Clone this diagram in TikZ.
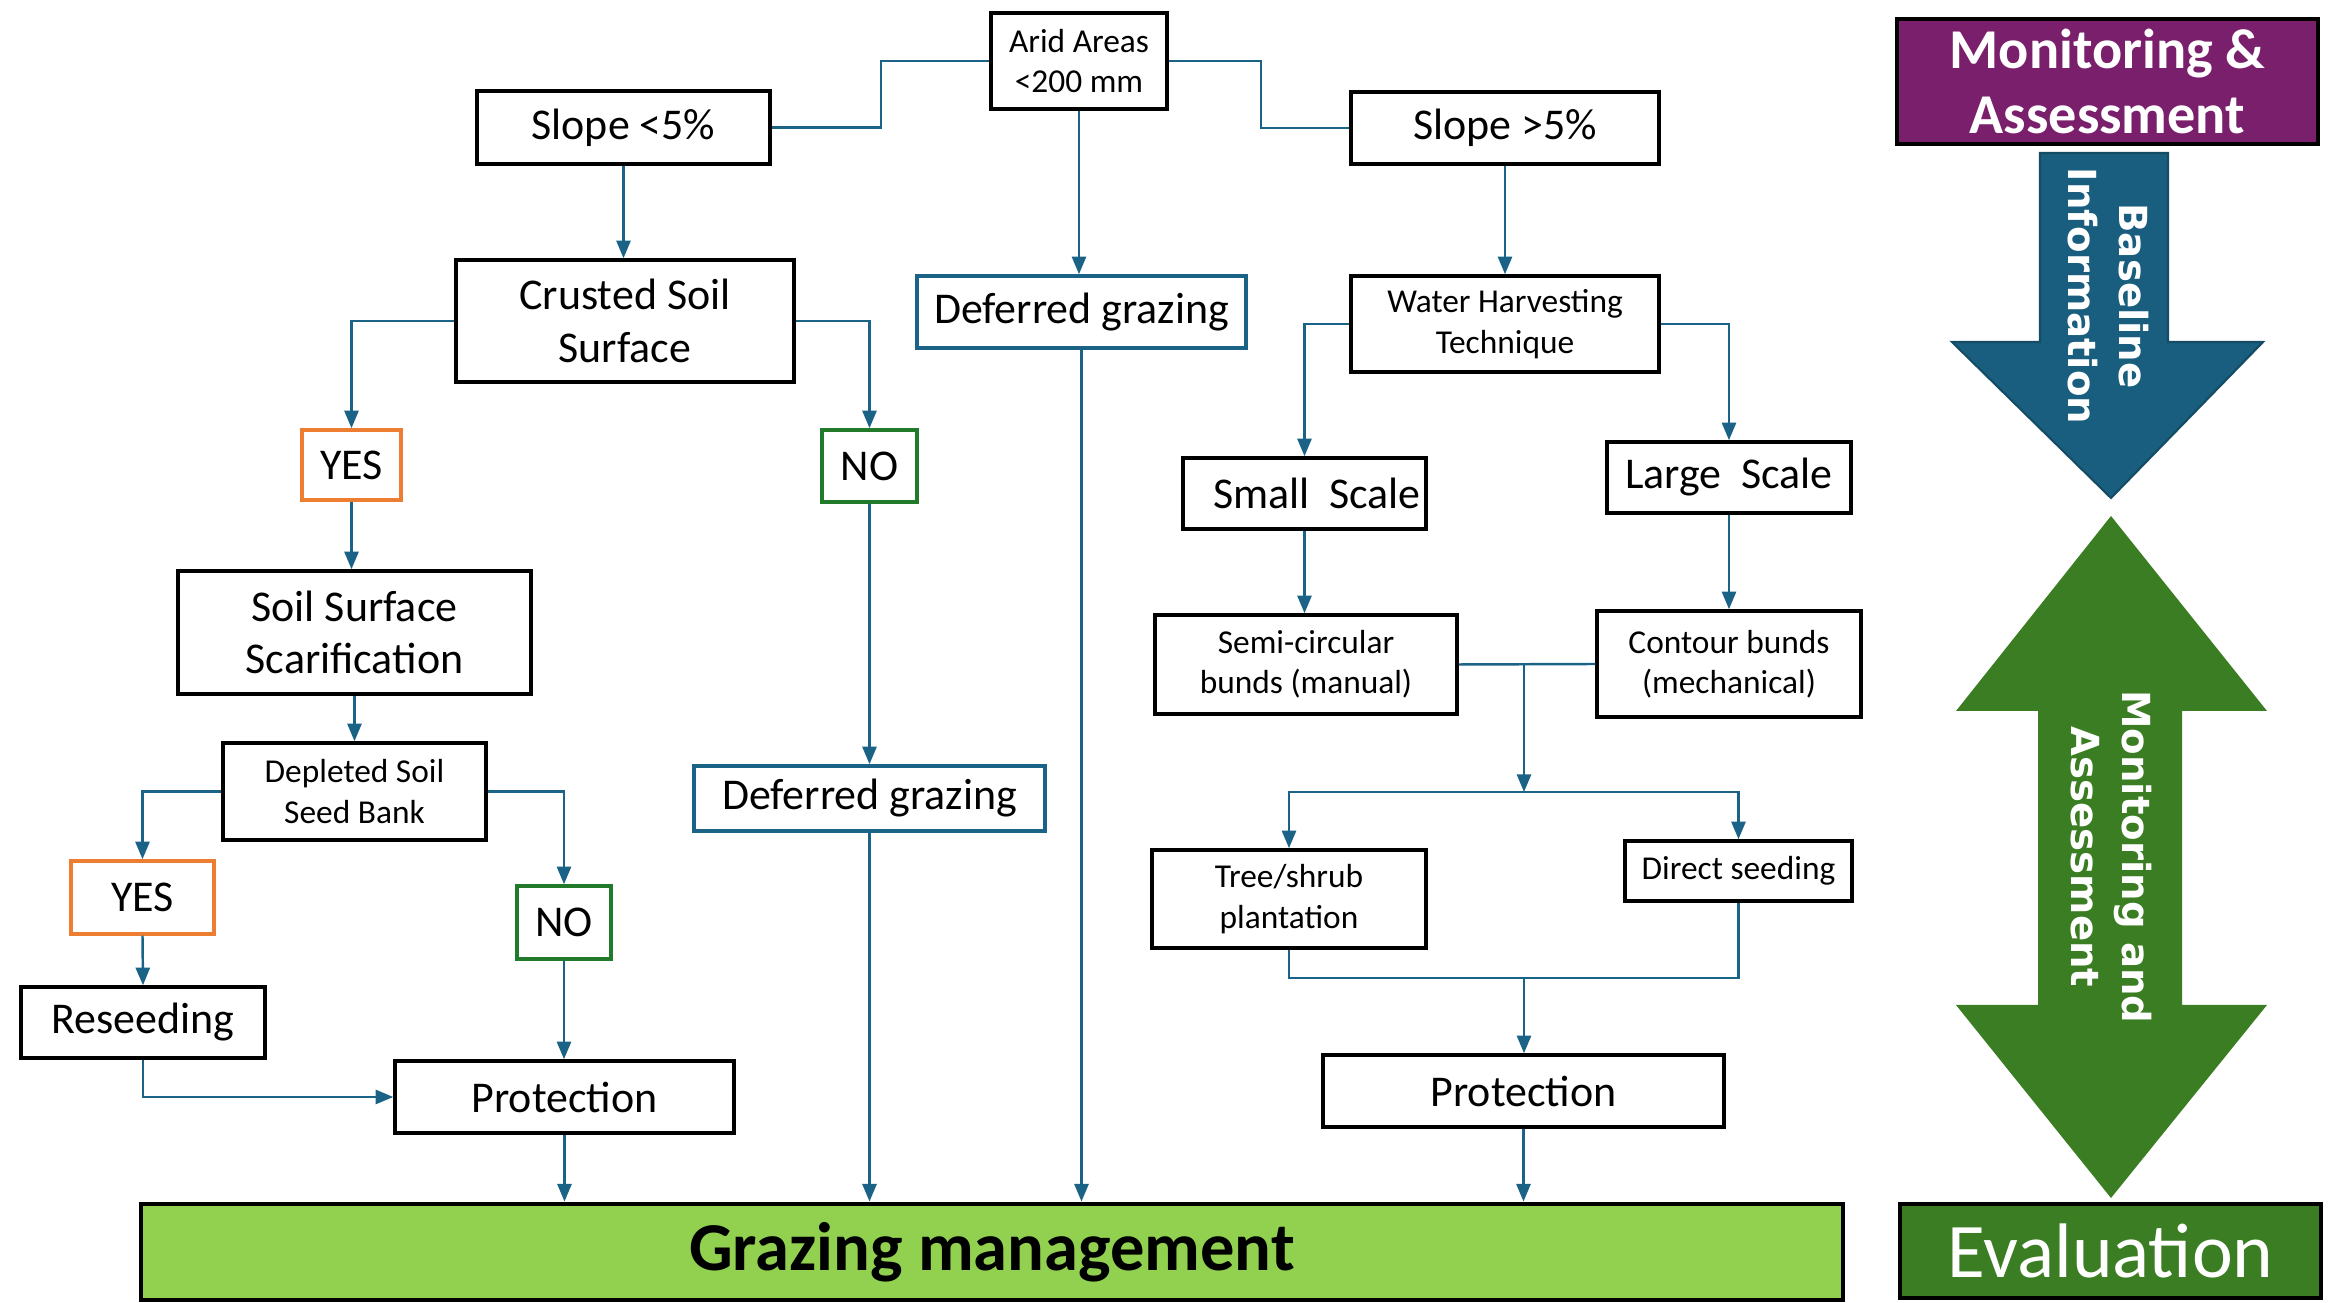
\documentclass[tikz,border=0pt]{standalone}
\usepackage{fontspec}
\setmainfont{Carlito}
\newfontfamily\widefont{DejaVu Sans}
\usetikzlibrary{arrows.meta, calc}

\definecolor{lineblue}{HTML}{1B6287}
\definecolor{arrblue}{HTML}{195E7E}
\definecolor{yesorange}{HTML}{ED7D31}
\definecolor{nogreen}{HTML}{217A2A}
\definecolor{grazegreen}{HTML}{92D050}
\definecolor{darkgreen}{HTML}{3A7D22}
\definecolor{monpurple}{HTML}{7A1F6C}

\newcommand{\bigtxt}{\fontsize{12.5}{15}\selectfont}
\newcommand{\smalltxt}{\fontsize{9.5}{11.5}\selectfont}

\tikzset{
  box/.style={draw, line width=1pt, align=center, inner sep=0pt},
  bluebox/.style={box, draw=lineblue},
  yesbox/.style={box, draw=yesorange},
  nobox/.style={box, draw=nogreen},
  lin/.style={draw=lineblue, line width=0.7pt},
  arr/.style={lin, -{Triangle[length=5pt,width=4pt]}},
}

\begin{document}
\begin{tikzpicture}[x=1cm, y=-1cm]
			\useasboundingbox (0,0) rectangle (23.31,13.03);
			% left and middle branches
			\node[box, minimum width=1.76cm, minimum height=0.96cm, font=\smalltxt] at(10.79,0.61) (arid) {Arid Areas\\<200 mm};
			\node[box, minimum width=2.93cm, minimum height=0.73cm, font=\bigtxt] at(6.235,1.275) (slopeL) {Slope <5\%};
			\node[box, minimum width=3.08cm, minimum height=0.72cm, font=\bigtxt] at(15.05,1.28) (slopeR) {Slope >5\%};
			\node[bluebox, minimum width=3.29cm, minimum height=0.72cm, font=\bigtxt] at(10.815,3.12) (defTop) {Deferred grazing};
			\node[box, minimum width=3.38cm, minimum height=1.22cm, font=\bigtxt] at(6.25,3.21) (crust) {Crusted Soil\\Surface};
			\node[yesbox, minimum width=0.99cm, minimum height=0.70cm, font=\bigtxt] at(3.515,4.65) (yesA) {YES};
			\node[nobox, minimum width=0.95cm, minimum height=0.72cm, font=\bigtxt] at(8.695,4.66) (noA) {NO};
			\node[box, minimum width=3.53cm, minimum height=1.23cm, font=\bigtxt] at(3.545,6.325) (scar) {Soil Surface\\Scarification};
			\node[bluebox, minimum width=3.51cm, minimum height=0.65cm, font=\bigtxt] at(8.695,7.985) (defMid) {Deferred grazing};
			\node[box, minimum width=2.63cm, minimum height=0.97cm, font=\smalltxt] at(3.545,7.915) (deplet) {Depleted Soil\\Seed Bank};
			\node[yesbox, minimum width=1.43cm, minimum height=0.73cm, font=\bigtxt] at(1.425,8.975) (yesB) {YES};
			\node[nobox, minimum width=0.94cm, minimum height=0.73cm, font=\bigtxt] at(5.64,9.225) (noB) {NO};
			\node[box, minimum width=2.44cm, minimum height=0.71cm, font=\bigtxt] at(1.43,10.225) (reseed) {Reseeding};
			\node[box, minimum width=3.39cm, minimum height=0.72cm, font=\bigtxt] at(5.645,10.97) (protL) {Protection};
			% right branch
			\node[box, minimum width=3.08cm, minimum height=0.96cm, font=\smalltxt] at(15.05,3.24) (water) {Water Harvesting\\Technique};
			\node[box, minimum width=2.43cm, minimum height=0.71cm, font=\bigtxt] at(13.045,4.935) (small) {\hspace*{0.25cm}Small~~Scale};
			\node[box, minimum width=2.44cm, minimum height=0.71cm, font=\bigtxt] at(17.29,4.775) (large) {Large~~Scale};
			\node[box, minimum width=3.02cm, minimum height=0.99cm, font=\smalltxt] at(13.06,6.645) (semi) {Semi-circular\\bunds (manual)};
			\node[box, minimum width=2.64cm, minimum height=1.06cm, font=\smalltxt] at(17.29,6.64) (contour) {Contour bunds\\(mechanical)};
			\node[box, minimum width=2.74cm, minimum height=0.98cm, font=\smalltxt] at(12.89,8.99) (tree) {Tree/shrub\\plantation};
			\node[box, minimum width=2.27cm, minimum height=0.60cm, font=\smalltxt] at(17.385,8.71) (direct) {Direct seeding};
			\node[box, minimum width=4.01cm, minimum height=0.72cm, font=\bigtxt] at(15.235,10.91) (protR) {Protection};
			\node[box, line width=1.4pt, fill=grazegreen, minimum width=17.02cm, minimum height=0.96cm, font=\fontsize{19.5}{22}\selectfont\bfseries] at(9.92,12.52) (graze) {Grazing management};
			% side panel
			\node[box, fill=monpurple, text=white, minimum width=4.21cm, minimum height=1.25cm, font=\fontsize{16}{18.5}\selectfont\bfseries] at(21.075,0.815) (monit) {Monitoring \&\\Assessment};
			\node[box, fill=darkgreen, text=white, minimum width=4.21cm, minimum height=0.94cm, font=\fontsize{22}{24}\selectfont] at(21.105,12.51) (evalu) {Evaluation};
			\filldraw[fill=arrblue, draw=arrblue!80!black, line width=0.6pt] (20.40,1.53) -- (21.68,1.53) -- (21.68,3.42) -- (22.63,3.42) -- (21.11,4.98) -- (19.52,3.42) -- (20.40,3.42) -- cycle;
			\node[rotate=-90, text=white, align=center, font=\widefont\fontsize{11}{14.5}\selectfont\bfseries] at(21.08,2.96) (base) {Baseline\\Information};
			\fill[darkgreen] (21.11,5.16) -- (22.67,7.11) -- (21.82,7.11) -- (21.82,10.05) -- (22.67,10.05) -- (21.11,11.98) -- (19.56,10.05) -- (20.38,10.05) -- (20.38,7.11) -- (19.56,7.11) -- cycle;
			\node[rotate=-90, text=white, align=center, font=\widefont\fontsize{11}{14.5}\selectfont\bfseries] at(21.11,8.57) (monas) {Monitoring and\\Assessment};
			
			\coordinate (split) at (15.24,7.92);
			\coordinate (merge) at (15.24,9.78);
			
			\draw[lin] (arid.west) -- ++(-1.08,0) |- (slopeL.east);
			\draw[lin] (arid.east) -- ++(0.92,0) |- (slopeR.west);
			\draw[arr] (arid.south) -- (arid.south |- defTop.north);
			\draw[arr] (defTop.south) -- (defTop.south |- graze.north);
			\draw[arr] (slopeL.south) -- (slopeL.south |- crust.north);
			\draw[arr] (crust.west) -| (yesA.north);
			\draw[arr] (crust.east) -| (noA.north);
			\draw[arr] (yesA.south) -- (yesA.south |- scar.north);
			\draw[arr] (noA.south) -- (defMid.north);
			\draw[arr] (defMid.south) -- (defMid.south |- graze.north);
			\draw[arr] (scar.south) -- (deplet.north);
			\draw[arr] (deplet.west) -| (yesB.north);
			\draw[arr] (deplet.east) -| (noB.north);
			\draw[arr] (yesB.south) -- (reseed.north);
			\draw[arr] (noB.south) -- (noB.south |- protL.north);
			\draw[arr] (reseed.south) |- (protL.west);
			\draw[arr] (protL.south) -- (protL.south |- graze.north);
			
			\draw[arr] (slopeR.south) -- (water.north);
			\draw[arr] (water.west) -| (small.north);
			\draw[arr] (water.east) -| (large.north);
			\draw[arr] (small.south) -- (small.south |- semi.north);
			\draw[arr] (large.south) -- (contour.north);
			\draw[lin] (semi.east) -- (contour.west);
			\draw[arr] (split |- semi.east) -- (split);
			\draw[arr] (split) -| (tree.north);
			\draw[arr] (split) -| (direct.north);
			\draw[lin] (tree.south) |- (merge);
			\draw[lin] (direct.south) |- (merge);
			\draw[arr] (merge) -- (merge |- protR.north);
			\draw[arr] (protR.south) -- (protR.south |- graze.north);
			\end{tikzpicture}
\end{document}
